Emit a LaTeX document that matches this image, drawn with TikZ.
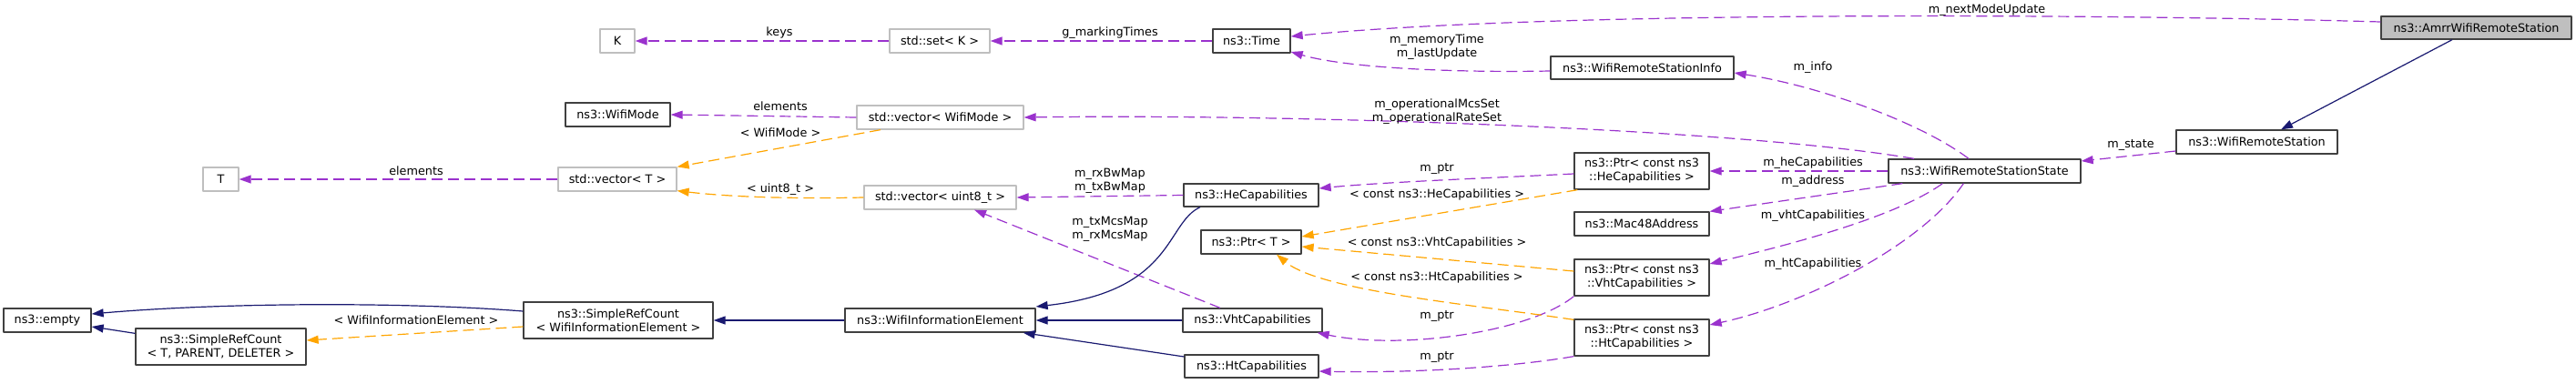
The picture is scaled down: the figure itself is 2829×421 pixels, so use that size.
\documentclass[tikz,border=0pt]{standalone}
\usepackage{fontspec}
\setmainfont{DejaVu Sans}
\usetikzlibrary{arrows.meta}
\definecolor{mbrcol}{HTML}{9A32CD}
\definecolor{tplcol}{HTML}{FFA500}
\definecolor{inhcol}{HTML}{191970}
\definecolor{boxdark}{HTML}{404040}
\definecolor{boxgray}{HTML}{BFBFBF}
\begin{document}
\begin{tikzpicture}[x={(1pt,0pt)}, y={(0pt,-1pt)}, line join=round, font=\fontsize{12.8}{15}\selectfont,
    cls/.style={draw=boxdark, line width=1.3pt, fill=white, inner sep=0pt, minimum height=26pt, align=center},
    ext/.style={cls, draw=boxgray},
    cur/.style={cls, fill=boxgray},
    mbr/.style={draw=mbrcol, line width=1.2pt, dash pattern=on 12pt off 6pt, -{Triangle[length=13pt,width=9pt]}},
    tpl/.style={mbr, draw=tplcol},
    inh/.style={draw=inhcol, line width=1.2pt, -{Triangle[length=13pt,width=9pt]}},
    lbl/.style={inner sep=0pt, align=center}]
  \useasboundingbox (0,0) rectangle (2829,421);
  % classes
  \node[cur, minimum width=209pt, minimum height=25pt] (amrr) at (2719.5,30.5) {ns3::AmrrWifiRemoteStation};
  \node[cls, minimum width=177pt] (wrs) at (2478.5,156) {ns3::WifiRemoteStation};
  \node[cls, minimum width=211pt] (wrss) at (2179.5,188) {ns3::WifiRemoteStationState};
  \node[cls, minimum width=85pt] (time) at (1374.5,45) {ns3::Time};
  \node[ext, minimum width=110pt] (setk) at (1032,45) {std::set< K >};
  \node[ext, minimum width=38pt] (K) at (678,45) {K};
  \node[cls, minimum width=201pt, minimum height=25pt] (info) at (1803.5,74.5) {ns3::WifiRemoteStationInfo};
  \node[ext, minimum width=183pt] (vecmode) at (1032.5,129) {std::vector< WifiMode >};
  \node[cls, minimum width=115pt] (wifimode) at (678.5,126) {ns3::WifiMode};
  \node[ext, minimum width=130pt] (vect) at (678,197) {std::vector< T >};
  \node[ext, minimum width=39pt] (T) at (242.5,197) {T};
  \node[ext, minimum width=167pt] (vecu8) at (1032.5,217) {std::vector< uint8\_t >};
  \node[cls, minimum width=148pt, minimum height=25pt] (hecap) at (1374,214.5) {ns3::HeCapabilities};
  \node[cls, minimum width=110pt] (ptrt) at (1374,266) {ns3::Ptr< T >};
  \node[cls, minimum width=148pt, minimum height=40pt] (ptrhe) at (1803,188) {ns3::Ptr< const ns3\\::HeCapabilities >};
  \node[cls, minimum width=148pt] (mac) at (1803,246) {ns3::Mac48Address};
  \node[cls, minimum width=148pt, minimum height=40pt] (ptrvht) at (1803,305) {ns3::Ptr< const ns3\\::VhtCapabilities >};
  \node[cls, minimum width=148pt, minimum height=40pt] (ptrht) at (1803,371) {ns3::Ptr< const ns3\\::HtCapabilities >};
  \node[cls, minimum width=153pt] (vhtcap) at (1375.5,352) {ns3::VhtCapabilities};
  \node[cls, minimum width=147pt, minimum height=25pt] (htcap) at (1374.5,402.5) {ns3::HtCapabilities};
  \node[cls, minimum width=209pt] (wie) at (1032.5,352) {ns3::WifiInformationElement};
  \node[cls, minimum width=208pt, minimum height=40pt] (srcwie) at (679,352) {ns3::SimpleRefCount\\< WifiInformationElement >};
  \node[cls, minimum width=187pt, minimum height=40pt] (srct) at (242.5,381) {ns3::SimpleRefCount\\< T, PARENT, DELETER >};
  \node[cls, minimum width=96pt] (empty) at (52,352) {ns3::empty};
  % members
  \draw[mbr] ([yshift=6.5pt]amrr.west) .. controls (2300,15) and (1700,12) .. ([yshift=5pt]time.east);
  \draw[mbr] (time.west) -- (setk.east);
  \draw[mbr] (setk.west) -- (K.east);
  \draw[mbr] ([yshift=-3.5pt]info.west) .. controls (1600,80) and (1480,75) .. ([yshift=-12pt]time.east);
  \draw[mbr] ([xshift=-17.5pt]wrss.north) .. controls (2110,135) and (2000,95) .. ([yshift=-5.5pt]info.east);
  \draw[mbr] ([xshift=-77.5pt]wrss.north) .. controls (1900,140) and (1400,125) .. (vecmode.east);
  \draw[mbr] (vecmode.west) -- (wifimode.east);
  \draw[mbr] (vect.west) -- (T.east);
  \draw[mbr] (hecap.west) -- (vecu8.east);
  \draw[mbr] ([xshift=-35.5pt]vhtcap.north) -- ([xshift=37.5pt]vecu8.south);
  \draw[mbr] ([yshift=-3pt]ptrhe.west) .. controls (1650,195) and (1520,200) .. ([yshift=7.5pt]hecap.east);
  \draw[mbr] (ptrvht.south west) .. controls (1680,365) and (1540,385) .. ([xshift=-6pt]vhtcap.south east);
  \draw[mbr] (ptrht.south west) .. controls (1650,405) and (1540,410) .. ([yshift=-5.5pt]htcap.east);
  \draw[mbr] (wrss.west) -- (ptrhe.east);
  \draw[mbr] ([xshift=16pt]wrss.south west) -- (mac.north east);
  \draw[mbr] ([xshift=60pt]wrss.south west) .. controls (2080,240) and (1960,270) .. ([yshift=15pt]ptrvht.east);
  \draw[mbr] ([xshift=83pt]wrss.south west) .. controls (2110,270) and (1980,335) .. ([yshift=14pt]ptrht.east);
  \draw[mbr] ([yshift=-10pt]wrs.west) -- ([yshift=11pt]wrss.east);
  % templates
  \draw[tpl] ([xshift=-65.5pt]vecmode.south) -- (vect.north east);
  \draw[tpl] (vecu8.west) .. controls (850,219) and (790,215) .. ([yshift=1pt]vect.south east);
  \draw[tpl] ([xshift=4pt]ptrhe.south west) -- ([yshift=6pt]ptrt.east);
  \draw[tpl] ([yshift=7pt]ptrvht.west) -- ([yshift=-5pt]ptrt.east);
  \draw[tpl] ([yshift=-1pt]ptrht.north west) .. controls (1620,335) and (1450,320) .. ([xshift=28pt]ptrt.south);
  \draw[tpl] ([yshift=-7pt]srcwie.west) -- ([yshift=7pt]srct.east);
  % inheritance
  \draw[inh] ([xshift=-26.5pt]amrr.south) -- ([xshift=26.5pt]wrs.north);
  \draw[inh] ([xshift=-56pt]hecap.south) .. controls (1280,245) and (1290,320) .. ([yshift=15pt]wie.east);
  \draw[inh] (vhtcap.west) -- (wie.east);
  \draw[inh] ([yshift=10.5pt]htcap.west) -- ([xshift=-14pt]wie.south east);
  \draw[inh] (wie.west) -- (srcwie.east);
  \draw[inh] ([yshift=10pt]srcwie.west) .. controls (450,332) and (250,332) .. ([yshift=7pt]empty.east);
  \draw[inh] ([yshift=-6pt]srct.north west) -- ([yshift=-7pt]empty.east);
  % labels
  \node[lbl] (lnext) at (2182,11) {m\_nextModeUpdate};
  \node[lbl] (lmark) at (1219,36) {g\_markingTimes};
  \node[lbl] (lkeys) at (856,36) {keys};
  \node[lbl] (lmem) at (1578,52) {m\_memoryTime\\m\_lastUpdate};
  \node[lbl] (linfo) at (1991,74) {m\_info};
  \node[lbl] (lops) at (1578,123) {m\_operationalMcsSet\\m\_operationalRateSet};
  \node[lbl] (lelm) at (857,117) {elements};
  \node[lbl] (lelt) at (457,188) {elements};
  \node[lbl] (ltmode) at (857,146) {< WifiMode >};
  \node[lbl] (ltu8) at (857,208) {< uint8\_t >};
  \node[lbl] (lbw) at (1219,199) {m\_rxBwMap\\m\_txBwMap};
  \node[lbl] (lmcs) at (1219,252) {m\_txMcsMap\\m\_rxMcsMap};
  \node[lbl] (lptrhe) at (1578,186) {m\_ptr};
  \node[lbl] (lthe) at (1578,214) {< const ns3::HeCapabilities >};
  \node[lbl] (ltvht) at (1578,267) {< const ns3::VhtCapabilities >};
  \node[lbl] (ltht) at (1578,305) {< const ns3::HtCapabilities >};
  \node[lbl] (lptrvht) at (1578,348) {m\_ptr};
  \node[lbl] (lptrht) at (1578,393) {m\_ptr};
  \node[lbl] (lhe) at (1991,179) {m\_heCapabilities};
  \node[lbl] (laddr) at (1991,199) {m\_address};
  \node[lbl] (lvht) at (1991,237) {m\_vhtCapabilities};
  \node[lbl] (lht) at (1991,290) {m\_htCapabilities};
  \node[lbl] (lstate) at (2340,160) {m\_state};
  \node[lbl] (ltwie) at (457,352) {< WifiInformationElement >};
\end{tikzpicture}
\end{document}
